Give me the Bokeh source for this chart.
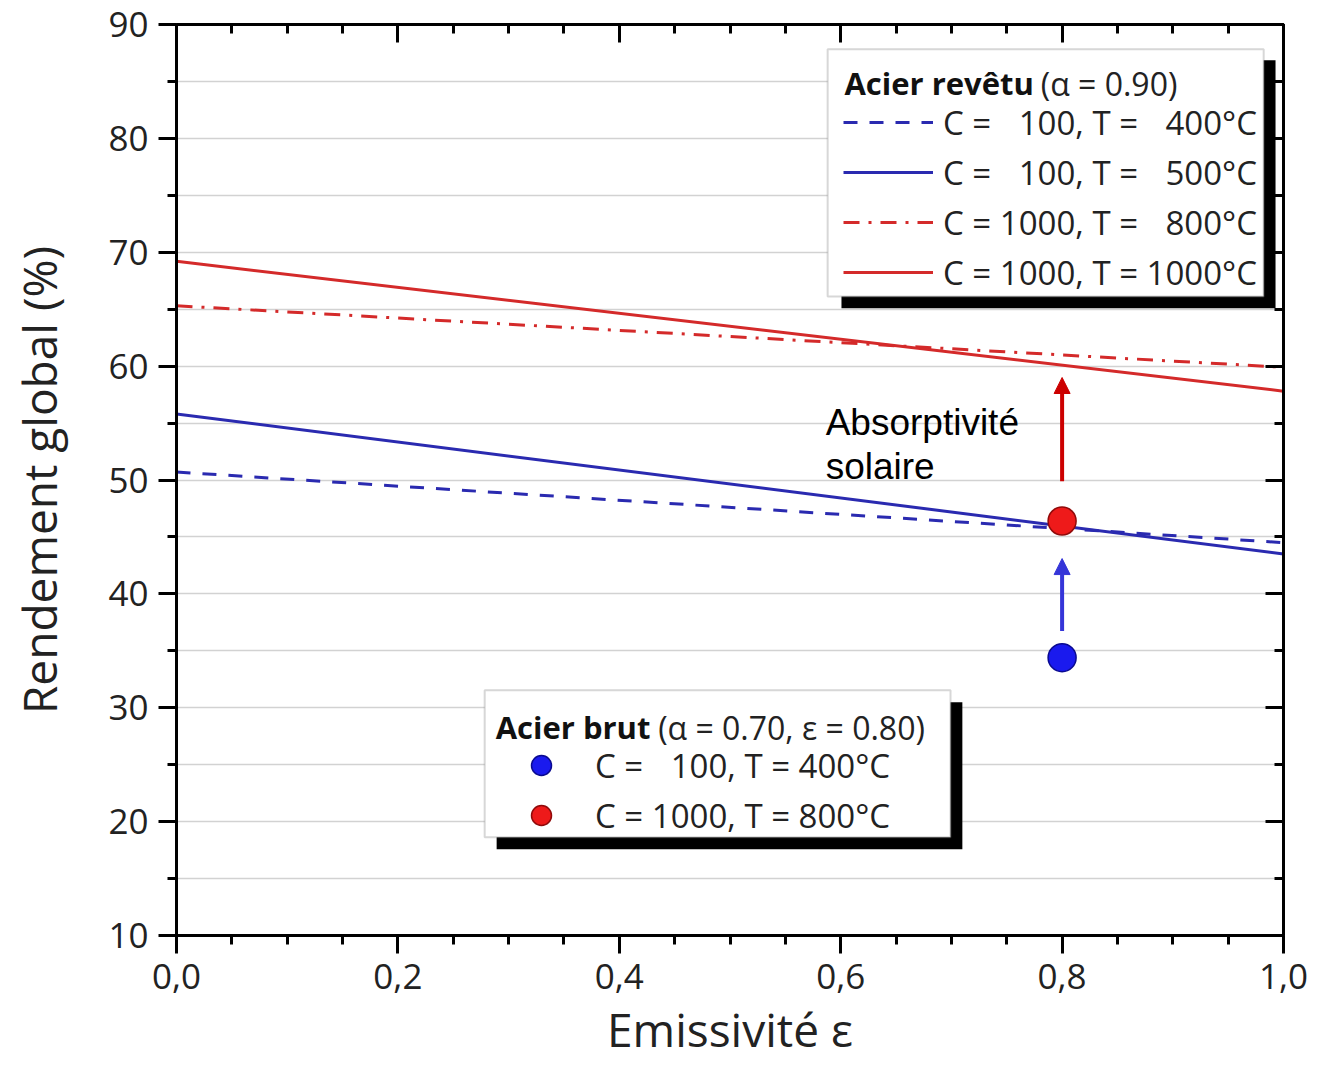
from bokeh.plotting import figure
from bokeh.models import (Range1d, FixedTicker, LinearAxis, Legend, LegendItem, Label,
                          BoxAnnotation, Arrow, NormalHead, CustomJSTickFormatter)
from bokeh.embed import file_html
from bokeh.resources import INLINE

# ---------------- data ----------------
emissivity = [0.0, 1.0]
eta_c100_t400 = [50.7, 44.5]     # coated steel, C=100, T=400°C (dashed blue)
eta_c100_t500 = [55.8, 43.5]     # coated steel, C=100, T=500°C (solid blue)
eta_c1000_t800 = [65.3, 59.9]    # coated steel, C=1000, T=800°C (dash-dot red)
eta_c1000_t1000 = [69.2, 57.8]   # coated steel, C=1000, T=1000°C (solid red)

raw_eps = [0.8]
raw_c100_t400 = [34.4]
raw_c1000_t800 = [46.4]

arrow_x = 0.8
arrow_blue = [36.75, 43.1]
arrow_red = [49.9, 59.0]

x_ticks = [0.0, 0.2, 0.4, 0.6, 0.8, 1.0]
x_minor = [0.05, 0.1, 0.15, 0.25, 0.3, 0.35, 0.45, 0.5, 0.55, 0.65, 0.7, 0.75, 0.85, 0.9, 0.95]
y_ticks = [10, 20, 30, 40, 50, 60, 70, 80, 90]
y_minor = [15, 25, 35, 45, 55, 65, 75, 85]

coated_labels = ["C = \u2007100, T = \u2007400°C",
                 "C = \u2007100, T = \u2007500°C",
                 "C = 1000, T = \u2007800°C",
                 "C = 1000, T = 1000°C"]
raw_labels = ["C = \u2007100, T = 400°C",
              "C = 1000, T = 800°C"]

FONT = "Open Sans"
BLUE = "#2a2ab0"
RED = "#d42a2a"

p = figure(frame_width=1107, frame_height=911,
           x_range=Range1d(0, 1), y_range=Range1d(10, 90),
           output_backend="svg", toolbar_location=None,
           min_border_left=176, min_border_top=24, min_border_right=26, min_border_bottom=110,
           background_fill_color="white", border_fill_color="white")

p.outline_line_color = "black"
p.outline_line_width = 3

# grid
p.xgrid.visible = False
p.ygrid.ticker = FixedTicker(ticks=sorted(y_ticks + y_minor))
p.ygrid.grid_line_color = "#d2d2d2"
p.ygrid.grid_line_width = 1.5


def style_axis(ax, inward=False):
    ax.axis_line_width = 3
    ax.axis_line_color = "black"
    ax.major_tick_line_width = 3
    ax.minor_tick_line_width = 3
    ax.major_tick_line_color = "black"
    ax.minor_tick_line_color = "black"
    if inward:
        ax.major_tick_in, ax.major_tick_out = 18, 0
        ax.minor_tick_in, ax.minor_tick_out = 9, 0
    else:
        ax.major_tick_in, ax.major_tick_out = 0, 18
        ax.minor_tick_in, ax.minor_tick_out = 0, 9


xfmt = CustomJSTickFormatter(code="return tick.toFixed(1).replace('.', ',');")

xa = p.xaxis[0]
xa.ticker = FixedTicker(ticks=x_ticks, minor_ticks=x_minor)
xa.formatter = xfmt
style_axis(xa)
xa.major_label_text_font = FONT
xa.major_label_text_font_size = "35px"
xa.major_label_text_color = "#222222"
xa.major_label_standoff = 10
xa.axis_label = "Emissivité ε"
xa.axis_label_text_font = FONT
xa.axis_label_text_font_size = "46px"
xa.axis_label_text_font_style = "normal"
xa.axis_label_text_color = "#222222"
xa.axis_label_standoff = 6

ya = p.yaxis[0]
ya.ticker = FixedTicker(ticks=y_ticks, minor_ticks=y_minor)
style_axis(ya)
ya.major_label_text_font = FONT
ya.major_label_text_font_size = "35px"
ya.major_label_text_color = "#222222"
ya.major_label_standoff = 10
ya.axis_label = "Rendement global (%)"
ya.axis_label_text_font = FONT
ya.axis_label_text_font_size = "46px"
ya.axis_label_text_font_style = "normal"
ya.axis_label_text_color = "#222222"
ya.axis_label_standoff = 35

blank = CustomJSTickFormatter(code="return '';")
top = LinearAxis(ticker=FixedTicker(ticks=x_ticks, minor_ticks=x_minor), formatter=blank,
                 major_label_text_font_size="0px", major_label_standoff=0)
style_axis(top, inward=True)
right = LinearAxis(ticker=FixedTicker(ticks=y_ticks, minor_ticks=y_minor), formatter=blank,
                   major_label_text_font_size="0px", major_label_standoff=0)
style_axis(right, inward=True)
p.add_layout(top, "above")
p.add_layout(right, "right")

# lines
r1 = p.line(emissivity, eta_c100_t400, line_color=BLUE, line_width=3, line_dash="14 12")
r2 = p.line(emissivity, eta_c100_t500, line_color=BLUE, line_width=3)
r3 = p.line(emissivity, eta_c1000_t800, line_color=RED, line_width=3, line_dash="16 9 3 9")
r4 = p.line(emissivity, eta_c1000_t1000, line_color=RED, line_width=3)

# arrows
p.add_layout(Arrow(end=NormalHead(size=16, fill_color="#3535d8", line_color="#3535d8"),
                   x_start=arrow_x, y_start=arrow_blue[0], x_end=arrow_x, y_end=arrow_blue[1],
                   line_color="#3535d8", line_width=4))
p.add_layout(Arrow(end=NormalHead(size=16, fill_color="#cc0000", line_color="#cc0000"),
                   x_start=arrow_x, y_start=arrow_red[0], x_end=arrow_x, y_end=arrow_red[1],
                   line_color="#cc0000", line_width=4))

# raw steel points
s1 = p.scatter(raw_eps, raw_c100_t400, size=28, fill_color="#1a1aee", line_color="#0a0a90", line_width=1.5)
s2 = p.scatter(raw_eps, raw_c1000_t800, size=28, fill_color="#ee1a1a", line_color="#900a0a", line_width=1.5)

# annotation text
p.add_layout(Label(x=0.5864, y=55.05, text="Absorptivité", text_font="Liberation Sans",
                   text_font_size="37px", text_color="black", text_baseline="alphabetic"))
p.add_layout(Label(x=0.5864, y=51.22, text="solaire", text_font="Liberation Sans",
                   text_font_size="37px", text_color="black", text_baseline="alphabetic"))

# legend 1 box (coated steel)
p.add_layout(BoxAnnotation(left=0.6007, right=0.9928, top=86.86, bottom=65.08,
                           fill_color="black", fill_alpha=1, line_alpha=0))
p.add_layout(BoxAnnotation(left=0.5882, right=0.9821, top=87.82, bottom=66.12,
                           fill_color="white", fill_alpha=1, line_color="#7a7a7a", line_width=2))
leg1 = Legend(items=[LegendItem(label=coated_labels[i], renderers=[r]) for i, r in enumerate([r1, r2, r3, r4])],
              location=(667, 638), padding=0, margin=0, spacing=0,
              glyph_width=90, glyph_height=50, label_height=50, label_standoff=10,
              label_text_font=FONT, label_text_font_size="33px", label_text_color="#222222",
              background_fill_alpha=0, border_line_alpha=0)
p.add_layout(leg1, "center")
p.add_layout(Label(x=0.6034, y=84.86, text="Acier revêtu", text_font=FONT, text_font_size="31px",
                   text_font_style="bold", text_color="#111111", text_baseline="alphabetic"))
p.add_layout(Label(x=0.7807, y=84.86, text="(α = 0.90)", text_font=FONT, text_font_size="32px",
                   text_color="#222222", text_baseline="alphabetic"))

# legend 2 box (raw steel)
p.add_layout(BoxAnnotation(left=0.2892, right=0.7099, top=30.48, bottom=17.58,
                           fill_color="black", fill_alpha=1, line_alpha=0))
p.add_layout(BoxAnnotation(left=0.2784, right=0.6992, top=31.53, bottom=18.63,
                           fill_color="white", fill_alpha=1, line_color="#7a7a7a", line_width=2))
leg2 = Legend(items=[LegendItem(label=raw_labels[i], renderers=[r]) for i, r in enumerate([s1, s2])],
              location=(340, 95), padding=0, margin=0, spacing=0,
              glyph_width=50, glyph_height=50, label_height=50, label_standoff=29,
              label_text_font=FONT, label_text_font_size="33px", label_text_color="#222222",
              background_fill_alpha=0, border_line_alpha=0)
p.add_layout(leg2, "center")
p.add_layout(Label(x=0.2883, y=28.30, text="Acier brut", text_font=FONT, text_font_size="31px",
                   text_font_style="bold", text_color="#111111", text_baseline="alphabetic"))
p.add_layout(Label(x=0.4351, y=28.30, text="(α = 0.70, ε = 0.80)", text_font=FONT, text_font_size="32px",
                   text_color="#222222", text_baseline="alphabetic"))

open("out.html", "w").write(file_html(p, INLINE))
